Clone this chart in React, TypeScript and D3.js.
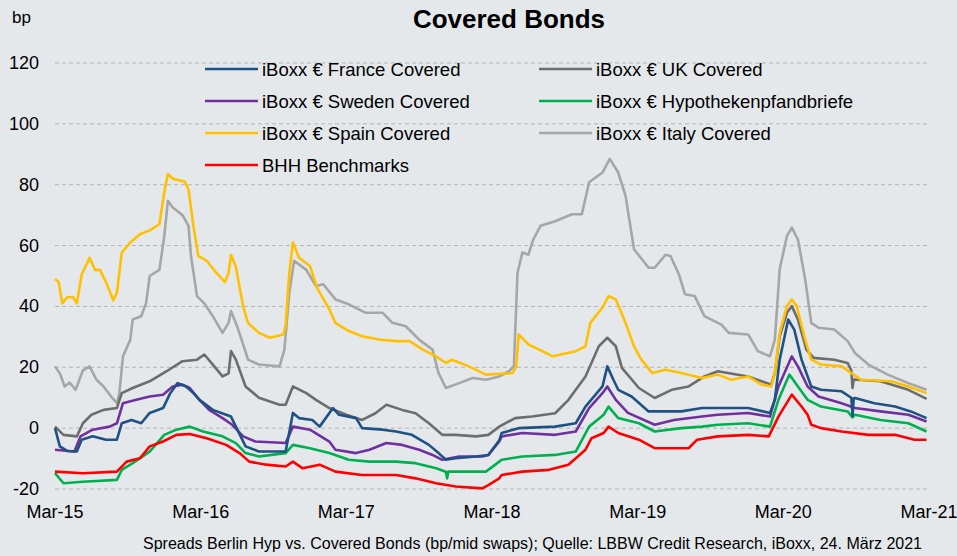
import * as d3 from "d3";

// months after Mar-15, spread in bp
const france: [number, number][] = [[0,0],[0.4,-6],[1,-7.5],[1.8,-7.7],[2.2,-3.8],[3.1,-2.7],[4.2,-3.8],[5.1,-3.8],[5.5,1.6],[6.3,2.7],[7.1,1.6],[7.8,5],[8.9,6.6],[9.5,11.5],[10.1,14.8],[10.8,13.7],[11.4,11.5],[11.9,9.3],[13,6],[14.1,4.4],[14.5,3.8],[14.9,0.5],[15.7,-6],[16.8,-7.7],[19,-7.7],[19.6,5],[20.1,3.3],[21.2,2.7],[21.8,0.5],[22.9,6.6],[23.4,4.4],[24.8,3.3],[25.3,0],[27,-0.5],[28.1,-1.1],[29.4,-2.2],[30.8,-5.5],[31.6,-8.2],[32.2,-10.4],[33,-9.9],[34.7,-9.3],[35.7,-8.8],[36.6,-4],[36.8,-1.6],[38.2,0],[41.2,0.5],[42.9,1.6],[43.7,7.1],[45.1,13.7],[45.5,20.3],[46,15.9],[46.4,12.6],[47.5,10.4],[48.9,5.5],[50,5.5],[51.6,5.5],[53.3,6.6],[55.5,6.6],[57.1,6.6],[58.9,5],[59.3,9.3],[59.7,22.5],[60.4,35.7],[60.9,32.4],[61.5,22.5],[62.3,13.7],[63.1,12.6],[64.8,12.1],[65.6,10],[65.7,4],[65.8,9.8],[65.9,9.9],[67.5,8.2],[69.2,7.1],[70.5,5.5],[71.8,3.3]];
const uk: [number, number][] = [[0,0.5],[0.7,-2.2],[1.8,-2.7],[2.3,1.6],[3,4.4],[4,6],[5.1,6.6],[5.5,11.5],[6.4,13.2],[7.8,15.4],[9.2,18.7],[10.5,22],[11.7,22.5],[12.3,24.2],[13,20.9],[13.8,17],[14.3,18],[14.5,25.3],[14.9,22.5],[15.7,13.7],[16.8,10],[18.5,7.7],[19,7.7],[19.6,13.7],[20.7,11.5],[21.5,9.3],[22.6,6.6],[24,4.4],[25.3,2.7],[26.4,4.9],[27.3,7.7],[28.6,6],[29.7,4.9],[30.8,1.6],[31.9,-2.2],[33,-2.2],[34.7,-2.7],[35.7,-2.2],[36.6,0.5],[37.9,3.3],[39.3,3.8],[41.2,4.9],[42.3,9.3],[43.7,17],[44.8,26.9],[45.5,29.7],[46.2,26.9],[46.7,19.8],[48.1,13.2],[49.4,9.9],[50.8,12.6],[52.2,13.7],[53.5,17],[54.6,18.7],[57.1,17],[59,14.3],[59.3,18.1],[59.7,30.2],[60.3,37.9],[60.7,40.1],[61.2,35.7],[61.9,25.8],[62.5,23.1],[64.2,22.5],[65.3,21.4],[65.6,19],[65.7,13.2],[65.8,16],[66.1,15.9],[68,15.4],[70.3,12.6],[71.8,9.6]];
const sweden: [number, number][] = [[0,-7.1],[1.6,-7.7],[2.1,-2.7],[3.1,-0.5],[4.5,0.5],[5.1,1.6],[5.6,8.2],[6.7,9.3],[7.8,10.4],[8.9,11],[9.7,13.7],[10.5,14.3],[11.1,13.2],[11.9,9.3],[12.7,6],[13.8,3.3],[14.6,1.1],[15.5,-2.7],[16.5,-4.4],[19,-4.9],[19.6,0.5],[21,-0.5],[22.6,-4.4],[23.1,-7.1],[24.8,-8.2],[25.9,-7.1],[27.3,-4.9],[28.6,-5.5],[30,-7.1],[31.1,-8.8],[31.9,-10.4],[33.3,-9.3],[35.2,-9.3],[35.7,-8.8],[36.6,-4.4],[36.8,-2.7],[38.5,-1.6],[41.2,-2.2],[42.9,-1.1],[44,6.6],[45.1,11.5],[45.5,13.7],[46.2,9.3],[47.2,5],[49.4,1.1],[51,2.7],[53.3,3.8],[54.6,4.4],[57.1,5],[58.9,3.8],[59.6,13.7],[60.7,23.6],[61.2,20.3],[62,13.7],[62.9,10.4],[64.8,8.2],[65.9,6.6],[68,5.5],[70.3,4.4],[71.8,2.2]];
const hypo: [number, number][] = [[0,-14.8],[0.7,-18.1],[2.3,-17.6],[5.1,-17],[5.5,-13.7],[6.4,-11.5],[7.8,-7.7],[9,-2.2],[10,-0.5],[11.1,0.5],[12.2,-1.1],[13.8,-2.7],[14.9,-4.9],[15.7,-8.2],[16.8,-9.3],[19,-8.2],[19.6,-5.5],[21,-6.6],[22.6,-8.2],[24.2,-10.4],[25.9,-11],[28.1,-11],[29.7,-11.5],[31.4,-13.2],[32.2,-14.3],[32.3,-16.5],[32.4,-14.3],[33.6,-14.3],[35.5,-14.3],[36.6,-11],[36.8,-10.4],[38.5,-9.3],[41.2,-8.8],[42.9,-7.7],[44,0.5],[45.2,4.4],[45.6,7.1],[46.4,3.3],[48.1,1.6],[49.4,-1.1],[51.6,0],[53.3,0.5],[54.6,1.1],[57.1,1.6],[58.9,0.5],[59.6,9.3],[60.5,17.6],[61.2,13.7],[62,9.3],[63.1,7.1],[65.3,5.5],[65.7,3.5],[65.9,4.4],[68,2.7],[70.3,1.6],[71.8,-1.1]];
const spain: [number, number][] = [[0,49],[0.3,48],[0.6,41],[1,43],[1.5,43],[1.8,41],[2.2,50.5],[2.85,56],[3.3,52],[3.7,52],[4.2,48],[4.8,42],[5.1,44.5],[5.5,57.7],[6.2,61],[7,63.7],[7.8,65],[8.6,67],[9,77.5],[9.3,83.5],[9.7,82],[10.7,81],[11,78.5],[11.4,66.5],[11.8,56.6],[12.5,55],[13.3,51],[14,48],[14.3,51],[14.5,57],[14.9,53],[15.5,40],[15.9,34.6],[16.8,31.3],[17.7,29.7],[18.8,30.8],[19,33.5],[19.3,51],[19.6,61],[20.1,56],[21,53.3],[21.6,46],[22.6,39],[23.1,34.6],[24.2,31.9],[25.3,30.2],[26.7,29.1],[28.1,28.6],[29.2,28.6],[30.3,25.8],[31.4,23.6],[32.2,21.4],[32.7,22.5],[34.1,20.3],[35.5,17.6],[37.7,18.1],[38,20.3],[38.2,30.8],[39,27.5],[39.9,25.8],[41,23.6],[42.9,25.3],[43.7,26.9],[44.1,34.6],[45.1,39.6],[45.6,43.4],[46.2,42.3],[47,34.6],[47.7,26.9],[48.3,22.5],[49.2,18.1],[50.3,19.2],[51.6,18.1],[53.3,16.5],[54.6,17.6],[55.7,15.9],[57.1,17],[58.2,14.3],[59,13.7],[59.3,18.1],[59.7,31.3],[60.3,40.1],[60.7,42.3],[61.1,40.1],[61.8,29.1],[62.3,22.5],[63.1,20.9],[64.8,20.3],[65.6,18.1],[66.4,15.9],[68.9,15.4],[70.3,13.7],[71.8,11.5]];
const italy: [number, number][] = [[0,20.3],[0.4,18],[0.8,13.7],[1.2,15],[1.7,12.6],[2.3,19],[2.85,20.3],[3.4,16],[4,13.7],[4.7,10],[5.1,8.2],[5.3,11.5],[5.6,23.6],[6.2,29],[6.4,35.7],[7.1,36.8],[7.5,41],[7.8,50],[8.6,52],[9,63],[9.3,74.7],[9.7,72.5],[10.5,70],[11,66.5],[11.2,56.6],[11.7,43.4],[12.3,41],[13,36.8],[13.8,31.3],[14.3,34.6],[14.5,38.5],[15,33.5],[15.5,27.5],[15.9,22.5],[16.8,20.9],[18.5,20.3],[18.9,25.8],[19.3,44.5],[19.7,55],[20.7,52],[21.5,46.7],[22.1,47.3],[23.1,42.3],[24.2,40.7],[25.6,37.9],[27,37.9],[27.8,34.6],[28.9,33.5],[30,29.1],[31.1,25.8],[31.6,18.1],[32.2,13.2],[33.3,14.8],[34.4,16.5],[35.5,15.9],[36.6,17],[37.4,18.7],[37.8,20.3],[38.1,51],[38.5,57.7],[39,57],[39.4,62],[40,66.5],[41.2,68],[42.6,70.3],[43.4,70.3],[44,80.8],[45.1,84],[45.7,88.5],[46.4,84],[47,76.4],[47.7,58.8],[48.9,52.7],[49.4,52.7],[50.3,57],[50.7,56.6],[51.4,50.5],[51.9,44],[52.7,43.4],[53.5,36.8],[54.9,34],[55.5,31.3],[57.1,30.8],[57.9,25.3],[58.9,23.6],[59.3,29.1],[59.7,52.2],[60.3,63.2],[60.7,65.9],[61.2,62],[61.8,48.9],[62.3,34.6],[62.9,33],[64.2,32.4],[65.3,28.6],[65.9,24.7],[67,20.9],[68.6,17.6],[70.3,14.8],[71.8,12.6]];
const bhh: [number, number][] = [[0,-14.3],[2.3,-14.8],[5.1,-14.3],[5.9,-11],[7,-9.9],[7.8,-6],[8.9,-4.4],[10,-2.2],[11.1,-1.9],[12.5,-3.3],[14.1,-5.5],[15.2,-8.2],[16,-11],[17.4,-12],[19,-12.6],[19.6,-11],[20.4,-13.2],[21.8,-12],[23.1,-14.3],[25.3,-15.4],[28.1,-15.4],[29.7,-16.5],[31.4,-18.1],[33,-19.2],[35.2,-19.8],[35.7,-18.7],[36.6,-16.5],[36.8,-15.4],[38.5,-14.3],[40.7,-13.7],[42.3,-12],[43.7,-7.1],[44.2,-3.3],[45.2,-1.6],[45.6,0.5],[46.4,-1.6],[48.1,-3.8],[49.4,-6.6],[52.2,-6.6],[52.9,-3.8],[54.6,-2.7],[57.1,-2.2],[58.8,-2.7],[59.6,3.8],[60.7,11],[61.5,7.1],[62,4.4],[62.3,1.1],[63.1,0],[64.8,-1.1],[67,-2.2],[69.2,-2.2],[70.8,-3.8],[71.8,-3.8]];

const xTickLabels = ["Mar-15", "Mar-16", "Mar-17", "Mar-18", "Mar-19", "Mar-20", "Mar-21"];
const yTicks = [-20, 0, 20, 40, 60, 80, 100, 120];

const series = [
  { name: "iBoxx € France Covered", data: france, color: "#1f5283" },
  { name: "iBoxx € UK Covered", data: uk, color: "#6d6d6d" },
  { name: "iBoxx € Sweden Covered", data: sweden, color: "#7030a0" },
  { name: "iBoxx € Hypothekenpfandbriefe", data: hypo, color: "#00b050" },
  { name: "iBoxx € Spain Covered", data: spain, color: "#ffc000" },
  { name: "iBoxx € Italy Covered", data: italy, color: "#a6a6a6" },
  { name: "BHH Benchmarks", data: bhh, color: "#ff0000" },
];
// paint order, back to front
const drawOrder = [5, 1, 4, 3, 2, 0, 6];

const W = 957, H = 556;
const font = "'Liberation Sans', Arial, sans-serif";

export default function App() {
  const x = d3.scaleLinear().domain([0, 72]).range([55, 929]);
  const y = d3.scaleLinear().domain([-20, 120]).range([489, 63]);
  const line = d3.line<[number, number]>().x(d => x(d[0])).y(d => y(d[1]));

  return (
    <svg width={W} height={H} style={{ position: "absolute", left: 0, top: 0, display: "block" }} fontFamily={font}>
      <rect width={W} height={H} fill="#e5e8eb" />
      <text x={509} y={28} textAnchor="middle" fontSize={26} fontWeight="bold">Covered Bonds</text>
      <text x={12} y={23} fontSize={17}>bp</text>

      {yTicks.map(t => (
        <g key={t}>
          <line x1={55} x2={929} y1={y(t)} y2={y(t)} stroke="#b4b4b4" strokeDasharray="4,3" strokeWidth={1} />
          <text x={39} y={y(t) + 6} textAnchor="end" fontSize={18}>{t}</text>
        </g>
      ))}
      {xTickLabels.map((l, i) => (
        <text key={l} x={x(i * 12)} y={518} textAnchor="middle" fontSize={18}>{l}</text>
      ))}

      {drawOrder.map(i => (
        <path key={i} d={line(series[i].data) || ""} fill="none" stroke={series[i].color}
          strokeWidth={2.6} strokeLinejoin="round" />
      ))}

      {series.map((s, i) => {
        const col = i % 2, row = Math.floor(i / 2);
        const lx = col === 0 ? 205 : 539;
        const ly = 69 + row * 32;
        return (
          <g key={s.name}>
            <line x1={lx} x2={lx + 53} y1={ly} y2={ly} stroke={s.color} strokeWidth={2.6} />
            <text x={lx + 57} y={ly + 6.5} fontSize={18.5}>{s.name}</text>
          </g>
        );
      })}

      <text x={922} y={549} textAnchor="end" fontSize={16}>
        Spreads Berlin Hyp vs. Covered Bonds (bp/mid swaps); Quelle: LBBW Credit Research, iBoxx, 24. März 2021
      </text>
    </svg>
  );
}
